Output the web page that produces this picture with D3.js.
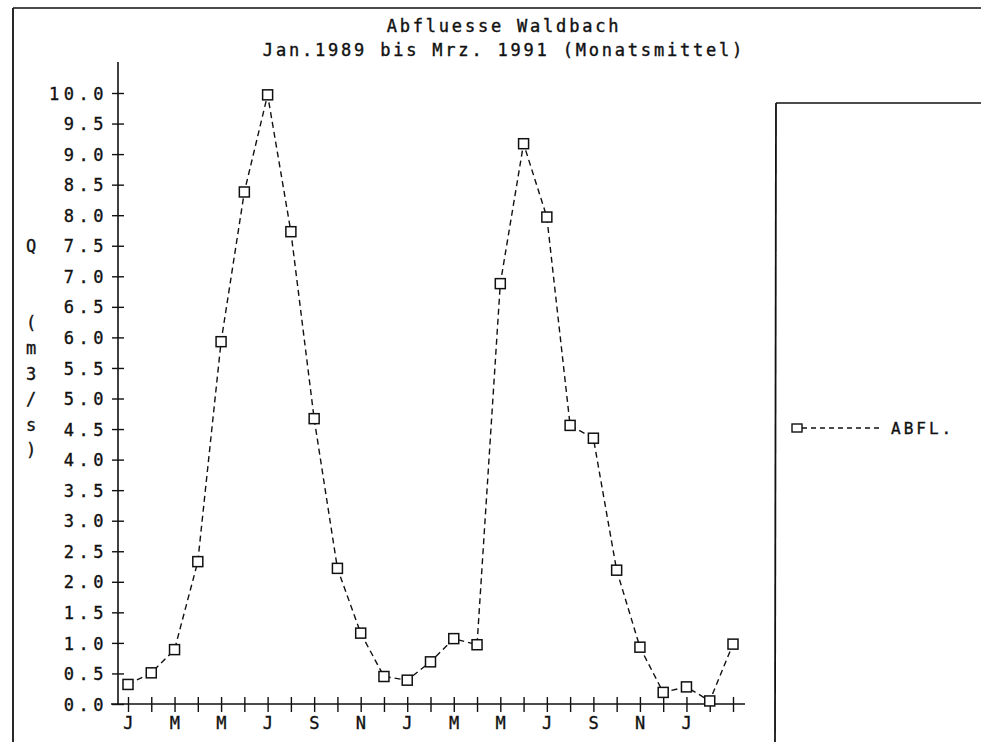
<!DOCTYPE html>
<html>
<head>
<meta charset="utf-8">
<script src="https://cdn.jsdelivr.net/npm/d3@7"></script>
<style>
  html, body { margin: 0; padding: 0; background: #fff; }
  svg { display: block; }
  .lbl { font-family: "DejaVu Sans Mono", monospace; font-size: 17px; letter-spacing: 4.5px; fill: #111; stroke: #111; stroke-width: 0.35px; }
  .ttl { font-family: "DejaVu Sans Mono", monospace; font-size: 17px; letter-spacing: 2.8px; fill: #111; stroke: #111; stroke-width: 0.4px; }
</style>
</head>
<body>
<svg id="chart" width="981" height="742"></svg>
<script>
// Monthly mean discharge, Jan 1989 .. Mar 1991 (m3/s)
const months = [
  "Jan 89","Feb 89","Mar 89","Apr 89","Mai 89","Jun 89","Jul 89","Aug 89","Sep 89","Okt 89","Nov 89","Dez 89",
  "Jan 90","Feb 90","Mar 90","Apr 90","Mai 90","Jun 90","Jul 90","Aug 90","Sep 90","Okt 90","Nov 90","Dez 90",
  "Jan 91","Feb 91","Mrz 91"
];
const abfl = [
  0.32, 0.51, 0.89, 2.33, 5.93, 8.38, 9.97, 7.73, 4.67, 2.22, 1.16, 0.45,
  0.39, 0.69, 1.07, 0.97, 6.88, 9.17, 7.97, 4.56, 4.35, 2.19, 0.93, 0.19,
  0.28, 0.05, 0.98
];
// Month initials printed under every second tick (last tick left blank)
const monthLetters = ["J","","M","","M","","J","","S","","N","",
                      "J","","M","","M","","J","","S","","N","",
                      "J","",""];
const yTicks = d3.range(0, 10.01, 0.5);
const titleLines = ["Abfluesse Waldbach", "Jan.1989 bis Mrz. 1991 (Monatsmittel)"];
const yLabelChars = ["Q", "", "", "(", "m", "3", "/", "s", ")"];
const legendLabel = "ABFL.";

const svg = d3.select("#chart");
const ink = "#111";

// Frame lines
svg.append("line").attr("x1", 13).attr("y1", 8).attr("x2", 981).attr("y2", 8)
  .attr("stroke", ink).attr("stroke-width", 1.5);
svg.append("line").attr("x1", 13).attr("y1", 8).attr("x2", 13).attr("y2", 742)
  .attr("stroke", ink).attr("stroke-width", 1.8);
// Legend box
svg.append("line").attr("x1", 776).attr("y1", 103).attr("x2", 981).attr("y2", 103)
  .attr("stroke", ink).attr("stroke-width", 1.5);
svg.append("line").attr("x1", 776).attr("y1", 103).attr("x2", 775).attr("y2", 742)
  .attr("stroke", ink).attr("stroke-width", 1.8);

// Titles
svg.selectAll("text.ttl").data(titleLines).join("text")
  .attr("class", "ttl")
  .attr("x", 504).attr("y", (d, i) => 32 + i * 24)
  .attr("text-anchor", "middle")
  .text(d => d);

// Scales
const x = d3.scaleLinear().domain([0, months.length - 1]).range([128, 733]);
const y = d3.scaleLinear().domain([0, 10]).range([704, 93]);

// Y axis line
svg.append("line").attr("x1", 118).attr("x2", 118).attr("y1", 62).attr("y2", 704)
  .attr("stroke", ink).attr("stroke-width", 1.6);
// X axis line
svg.append("line").attr("x1", 111).attr("x2", 745).attr("y1", 704).attr("y2", 704)
  .attr("stroke", ink).attr("stroke-width", 1.6);

// Y axis ticks and labels
const yAxis = d3.axisLeft(y).tickValues(yTicks).tickFormat(d3.format(".1f")).tickSize(0).tickPadding(0);
const gy = svg.append("g").attr("transform", "translate(118,0)").call(yAxis);
gy.select(".domain").remove();
gy.selectAll(".tick line").attr("x1", -6).attr("x2", 6).attr("stroke", ink).attr("stroke-width", 1.4);
gy.selectAll(".tick text").attr("class", "lbl").attr("x", -10).attr("dy", "0.36em")
  .attr("font-family", null).attr("font-size", null).attr("fill", ink);

// X axis ticks and labels
const xAxis = d3.axisBottom(x).tickValues(d3.range(months.length))
  .tickFormat(i => monthLetters[i]).tickSize(0).tickPadding(0);
const gx = svg.append("g").attr("transform", "translate(0,704)").call(xAxis);
gx.select(".domain").remove();
gx.selectAll(".tick line").attr("y1", -7).attr("y2", 8).attr("stroke", ink).attr("stroke-width", 1.4);
gx.selectAll(".tick text").attr("class", "lbl").attr("y", 25).attr("dy", 0).attr("dx", 2)
  .attr("font-family", null).attr("font-size", null).attr("fill", ink);

// Vertical y-axis title, one character per row
svg.selectAll("text.ylab").data(yLabelChars).join("text")
  .attr("class", "lbl ylab")
  .attr("x", 31).attr("y", (d, i) => 252 + i * 25.5)
  .attr("text-anchor", "middle")
  .style("letter-spacing", "0px")
  .text(d => d);

// Series line
const line = d3.line().x((d, i) => x(i)).y(d => y(d));
svg.append("path").datum(abfl)
  .attr("d", line).attr("fill", "none")
  .attr("stroke", ink).attr("stroke-width", 1.4)
  .attr("stroke-dasharray", "6,4");

// Square markers
const ms = 10;
svg.selectAll("rect.pt").data(abfl).join("rect")
  .attr("class", "pt")
  .attr("x", (d, i) => x(i) - ms / 2).attr("y", d => y(d) - ms / 2)
  .attr("width", ms).attr("height", ms)
  .attr("fill", "#fff").attr("stroke", ink).attr("stroke-width", 1.5);

// Legend
const lg = svg.append("g").attr("transform", "translate(797,428)");
lg.append("line").attr("x1", 5).attr("x2", 86).attr("y1", 0).attr("y2", 0)
  .attr("stroke", ink).attr("stroke-width", 1.3).attr("stroke-dasharray", "5,4");
lg.append("rect").attr("x", -5).attr("y", -4).attr("width", 10).attr("height", 8)
  .attr("fill", "#fff").attr("stroke", ink).attr("stroke-width", 1.4);
lg.append("text").attr("class", "lbl").attr("x", 94).attr("y", 6)
  .style("font-size", "16px").style("letter-spacing", "3px").text(legendLabel);
</script>
</body>
</html>
